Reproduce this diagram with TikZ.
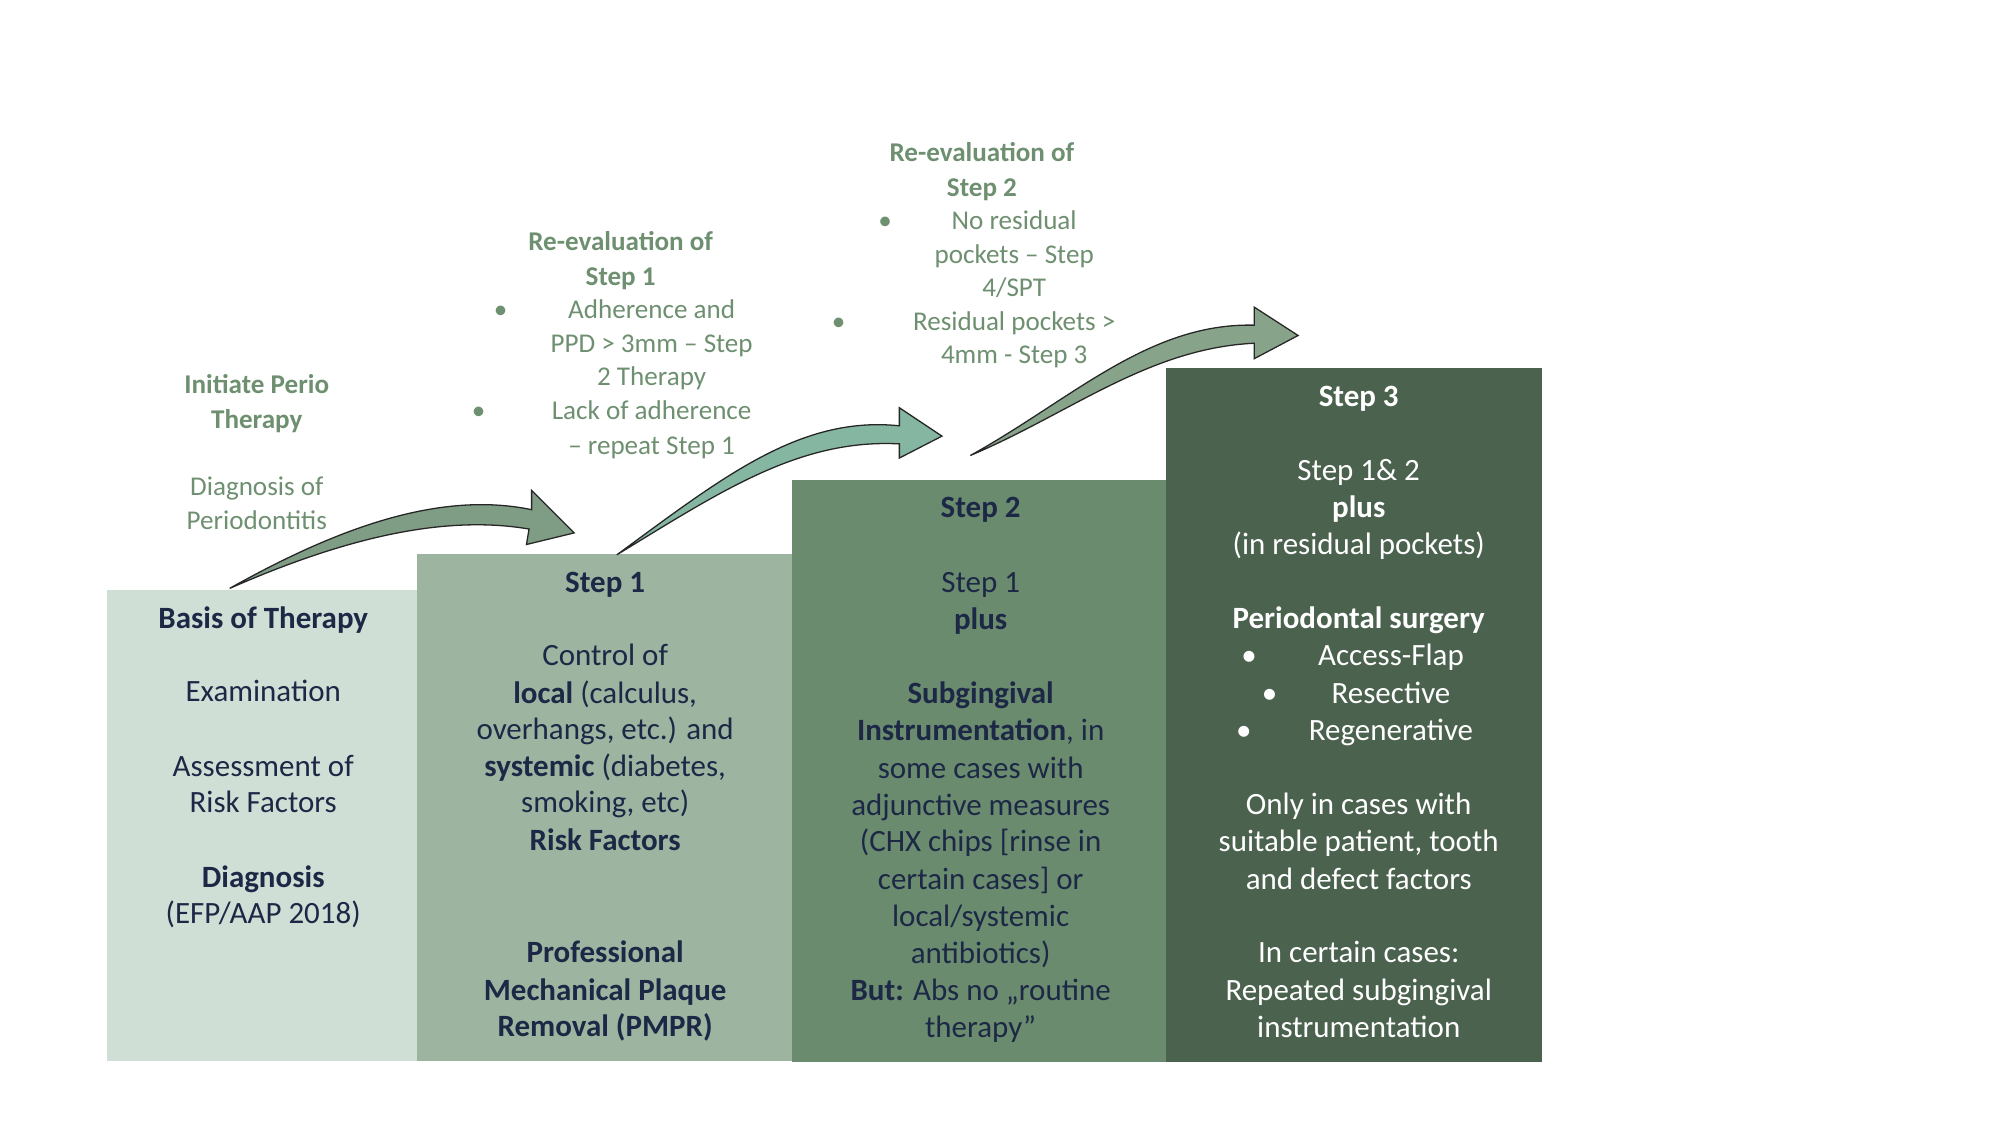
\documentclass[tikz,border=0pt]{standalone}
\usepackage{fontspec}
\setmainfont{Carlito}
\begin{document}
\begin{tikzpicture}[x=1pt,y=-1pt,
  box/.style={draw=none},
  bt/.style={anchor=base,font=\fontsize{24}{29}\selectfont,text=navy,inner sep=0pt},
  wt/.style={bt,text=white},
  gt/.style={anchor=base,font=\fontsize{21}{26}\selectfont,text=lgreen,inner sep=0pt},
  arr/.style={draw=black!85,line width=1pt,line join=miter}]
\definecolor{navy}{HTML}{1C2845}
\definecolor{lgreen}{HTML}{6E8F70}
\definecolor{c1}{HTML}{D0DFD5}
\definecolor{c2}{HTML}{9DB5A0}
\definecolor{c3}{HTML}{6A8B6E}
\definecolor{c4}{HTML}{4A624E}
\definecolor{a1}{HTML}{7F9C85}
\definecolor{a2}{HTML}{84B6A2}
\definecolor{a3}{HTML}{87A48B}
\useasboundingbox (0,0) rectangle (1550,872);
\fill[c1] (83,457) rectangle (323,822);
\fill[c2] (323,429) rectangle (614,822);
\fill[c3] (614,372) rectangle (904,823);
\fill[c4] (904,285) rectangle (1195,823);
% arrows
\filldraw[arr,fill=a1] (178,456) .. controls (260,410) and (340,380) .. (412,395) -- (412,380) -- (445,413) -- (408,422) -- (410,410) .. controls (340,398) and (260,420) .. cycle;
\filldraw[arr,fill=a2] (478,430) .. controls (560,370) and (620,322) .. (697,330) -- (697,316) -- (730,338) -- (697,355) -- (697,344) .. controls (620,340) and (560,380) .. cycle;
\filldraw[arr,fill=a3] (752,353) .. controls (830,310) and (890,250) .. (972,252) -- (972,238) -- (1006,260) -- (972,278) -- (972,266) .. controls (890,270) and (830,320) .. cycle;
% column 1
\foreach \y/\t in {479/{\textbf{Basis of Therapy}},536/{Examination},594/{Assessment of},622/{Risk Factors},680/{\textbf{Diagnosis}},708/{(EFP/AAP 2018)}}
  \node[bt] at (204,\y+8) {\t};
% column 2
\foreach \y/\t in {451/{\textbf{Step 1}},508/{Control of},537/{\textbf{local} (calculus,},565/{overhangs, etc.) and},594/{\textbf{systemic} (diabetes,},622/{smoking, etc)},651/{\textbf{Risk Factors}},738/{\textbf{Professional}},767/{\textbf{Mechanical Plaque}},795/{\textbf{Removal (PMPR)}}}
  \node[bt] at (469,\y+8) {\t};
% column 3
\foreach \y/\t in {393/{\textbf{Step 2}},451/{Step 1},480/{\textbf{plus}},537/{\textbf{Subgingival}},566/{\textbf{Instrumentation}, in},595/{some cases with},624/{adjunctive measures},652/{(CHX chips [rinse in},681/{certain cases] or},710/{local/systemic},739/{antibiotics)},767/{\textbf{But:} Abs no „routine},796/{therapy”}}
  \node[bt] at (760,\y+8) {\t};
% column 4
\foreach \y/\t in {307/{\textbf{Step 3}},364/{Step 1\& 2},393/{\textbf{plus}},422/{(in residual pockets)},479/{\textbf{Periodontal surgery}},623/{Only in cases with},652/{suitable patient, tooth},681/{and defect factors},738/{In certain cases:},767/{Repeated subgingival},796/{instrumentation}}
  \node[wt] at (1053,\y+8) {\t};
\foreach \y/\t in {508/{Access-Flap},537/{Resective},566/{Regenerative}}
  \node[wt] at (1078,\y+8) {\t};
\foreach \y/\x in {508/968,537/984,566/964}
  \node[wt] at (\x,\y+8) {•};
% top labels
\foreach \y/\t in {298/{\textbf{Initiate Perio}},325/{\textbf{Therapy}},377/{Diagnosis of},403/{Periodontitis}}
  \node[gt] at (199,\y+7) {\t};
\foreach \y/\t in {187/{\textbf{Re-evaluation of}},214/{\textbf{Step 1}}}
  \node[gt] at (481,\y+7) {\t};
\foreach \y/\t in {240/{Adherence and},266/{PPD > 3mm – Step},292/{2 Therapy},318/{Lack of adherence},345/{– repeat Step 1}}
  \node[gt] at (505,\y+7) {\t};
\node[gt] at (388,240+7) {•};
\node[gt] at (371,318+7) {•};
\foreach \y/\t in {118/{\textbf{Re-evaluation of}},145/{\textbf{Step 2}}}
  \node[gt] at (761,\y+7) {\t};
\foreach \y/\t in {171/{No residual},197/{pockets – Step},223/{4/SPT},249/{Residual pockets >},275/{4mm - Step 3}}
  \node[gt] at (786,\y+7) {\t};
\node[gt] at (686,171+7) {•};
\node[gt] at (650,249+7) {•};
\end{tikzpicture}
\end{document}
